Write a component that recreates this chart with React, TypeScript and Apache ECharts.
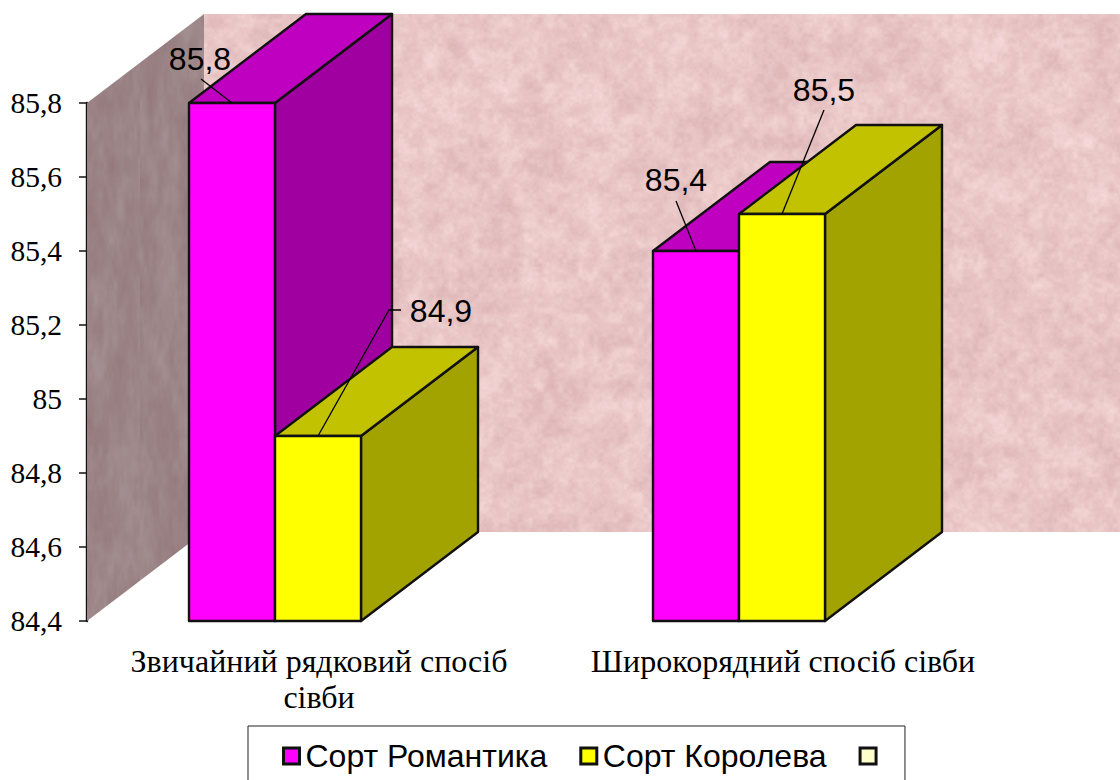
import React, { useEffect, useRef } from "react";
import * as echarts from "echarts";

const categories = ["Звичайний рядковий спосіб\nсівби", "Широкорядний спосіб сівби"];
const seriesNames = ["Сорт Романтика", "Сорт Королева", " "];
const romantykaValues = [85.8, 85.4];
const korolevaValues = [84.9, 85.5];
const axisMin = 84.4;
const axisMax = 85.8;
const axisStep = 0.2;

// Oblique projection of the box: how far the back face sits from the front face.
const DEPTH_X = 117;
const DEPTH_Y = -89;
const GROUP_SHIFT = -44;
const BAR_SHARE = 86 / 464;
const EDGE = "#111111";
const SERIF = "'Liberation Serif', 'Times New Roman', serif";
const SANS = "'Liberation Sans', Arial, sans-serif";

const palette = [
  { front: "#ff00ff", top: "#c000c0", side: "#a000a0" },
  { front: "#ffff00", top: "#c2c200", side: "#a3a300" },
  { front: "#ffffcc" },
];

// Leader line and text placement, relative to the top-centre of each bar's front face.
const romantykaLabels = [
  { leader: [[0, 0], [-31, -24]], text: [-32, -44] },
  { leader: [[0, 0], [-20, -50]], text: [-20, -71] },
];
const korolevaLabels = [
  { leader: [[0, 0], [71, -126], [83, -126]], text: [123, -125] },
  { leader: [[0, 0], [42, -104]], text: [42, -124] },
];

// Deterministic mottled paper texture for the chart walls.
function paperTexture(w: number, h: number, base: number[], amp: number, stretchY: number) {
  const canvas = document.createElement("canvas");
  canvas.width = w;
  canvas.height = h;
  const ctx = canvas.getContext("2d")!;
  const img = ctx.createImageData(w, h);
  const hash = (a: number, b: number) => {
    let n = (a * 374761393 + b * 668265263) | 0;
    n = Math.imul(n ^ (n >>> 13), 1274126177);
    return (((n ^ (n >>> 16)) >>> 0) % 1000) / 1000;
  };
  const smooth = (t: number) => t * t * (3 - 2 * t);
  const noise = (x: number, y: number) => {
    const xi = Math.floor(x);
    const yi = Math.floor(y);
    const u = smooth(x - xi);
    const v = smooth(y - yi);
    const top = hash(xi, yi) * (1 - u) + hash(xi + 1, yi) * u;
    const bottom = hash(xi, yi + 1) * (1 - u) + hash(xi + 1, yi + 1) * u;
    return top * (1 - v) + bottom * v;
  };
  const scales = [60, 24, 11, 5, 2.5];
  const weights = [0.45, 0.8, 1, 0.8, 0.5];
  for (let y = 0; y < h; y++) {
    for (let x = 0; x < w; x++) {
      let sum = 0;
      for (let o = 0; o < scales.length; o++) {
        sum += weights[o] * (noise(x / scales[o] + o * 17, y / (scales[o] * stretchY) + o * 31) - 0.5);
      }
      const i = (y * w + x) * 4;
      img.data[i] = base[0] + sum * amp * 0.7;
      img.data[i + 1] = base[1] + sum * amp;
      img.data[i + 2] = base[2] + sum * amp;
      img.data[i + 3] = 255;
    }
  }
  ctx.putImageData(img, 0, 0);
  return canvas;
}

export default function App() {
  const ref = useRef<HTMLDivElement>(null);

  useEffect(() => {
    const chart = echarts.init(ref.current!, undefined, { renderer: "svg" });
    const backTexture = paperTexture(1120, 540, [233, 198, 198], 15, 1);
    const sideTexture = paperTexture(140, 640, [156, 133, 135], 11, 3);

    const renderWalls = (params: any, api: any) => {
      const bottom = api.coord([0, axisMin])[1];
      const top = api.coord([0, axisMax])[1];
      const left = params.coordSys.x;
      const right = api.getWidth();
      return {
        type: "group",
        children: [
          {
            type: "polygon",
            shape: {
              points: [
                [left + DEPTH_X, top + DEPTH_Y],
                [right, top + DEPTH_Y],
                [right, bottom + DEPTH_Y],
                [left + DEPTH_X, bottom + DEPTH_Y],
              ],
            },
            style: { fill: { image: backTexture, repeat: "repeat" }, stroke: null },
          },
          {
            type: "polygon",
            shape: {
              points: [
                [left, top],
                [left + DEPTH_X, top + DEPTH_Y],
                [left + DEPTH_X, bottom + DEPTH_Y],
                [left, bottom],
              ],
            },
            style: { fill: { image: sideTexture, repeat: "repeat" }, stroke: null },
          },
        ],
      };
    };

    const renderBar = (seriesIdx: number, labels: any[]) => (_params: any, api: any) => {
      const cat = api.value(0);
      const value = api.value(1);
      const [cx, y] = api.coord([cat, value]);
      const y0 = api.coord([cat, axisMin])[1];
      const w = api.size([1, 0])[0] * BAR_SHARE;
      const x0 = cx + GROUP_SHIFT - w + seriesIdx * w;
      const x1 = x0 + w;
      const colors = palette[seriesIdx];
      const edge = { stroke: EDGE, lineWidth: 2.4, lineJoin: "round" };
      const anchor = [(x0 + x1) / 2, y];
      const mark = labels[cat];
      return {
        type: "group",
        children: [
          {
            type: "polygon",
            shape: { points: [[x1, y], [x1 + DEPTH_X, y + DEPTH_Y], [x1 + DEPTH_X, y0 + DEPTH_Y], [x1, y0]] },
            style: { fill: colors.side, ...edge },
          },
          {
            type: "polygon",
            shape: { points: [[x0, y], [x0 + DEPTH_X, y + DEPTH_Y], [x1 + DEPTH_X, y + DEPTH_Y], [x1, y]] },
            style: { fill: colors.top, ...edge },
          },
          {
            type: "rect",
            shape: { x: x0, y, width: w, height: y0 - y },
            style: { fill: colors.front, ...edge },
          },
          {
            type: "polyline",
            shape: { points: mark.leader.map((p: number[]) => [anchor[0] + p[0], anchor[1] + p[1]]) },
            style: { fill: null, stroke: "#000", lineWidth: 1.3 },
          },
          {
            type: "text",
            x: anchor[0] + mark.text[0],
            y: anchor[1] + mark.text[1],
            style: {
              text: String(value).replace(".", ","),
              fill: "#000",
              font: `32px ${SANS}`,
              align: "center",
              verticalAlign: "middle",
            },
          },
        ],
      };
    };

    const pairs = (values: number[]) => values.map((v, i) => [i, v]);

    chart.setOption({
      animation: false,
      backgroundColor: "#ffffff",
      grid: { left: 87, top: 103, width: 928, height: 518, containLabel: false },
      xAxis: {
        type: "category",
        data: categories,
        axisLine: { show: false },
        axisTick: { show: false },
        axisLabel: {
          interval: 0,
          margin: 22,
          fontFamily: SERIF,
          fontSize: 32,
          lineHeight: 36,
          color: "#000",
        },
      },
      yAxis: {
        type: "value",
        min: axisMin,
        max: axisMax,
        interval: axisStep,
        splitLine: { show: false },
        axisLine: { show: true, lineStyle: { color: EDGE, width: 2.4 } },
        axisTick: { show: true, length: 8, lineStyle: { color: EDGE, width: 1.5 } },
        axisLabel: {
          margin: 25,
          fontFamily: SERIF,
          fontSize: 29.5,
          color: "#000",
          formatter: (v: number) => String(+v.toFixed(1)).replace(".", ","),
        },
      },
      legend: {
        left: 248,
        top: 726,
        padding: [14, 14, 16, 34],
        selectedMode: false,
        backgroundColor: "#ffffff",
        borderColor: "#222222",
        borderWidth: 1,
        itemWidth: 16,
        itemHeight: 16,
        itemGap: 32,
        textStyle: { fontFamily: SANS, fontSize: 32, color: "#000", padding: [0, 0, 0, 1] },
        data: seriesNames.map((name, i) => ({
          name,
          icon: "rect",
          itemStyle: { color: palette[i].front, borderColor: EDGE, borderWidth: 3 },
        })),
      },
      series: [
        {
          type: "custom",
          name: "walls",
          coordinateSystem: "cartesian2d",
          renderItem: renderWalls,
          data: [[0, axisMin]],
          z: 1,
          silent: true,
        },
        {
          type: "custom",
          name: seriesNames[0],
          coordinateSystem: "cartesian2d",
          renderItem: renderBar(0, romantykaLabels),
          encode: { x: 0, y: 1 },
          data: pairs(romantykaValues),
          itemStyle: { color: palette[0].front },
          z: 2,
        },
        {
          type: "custom",
          name: seriesNames[1],
          coordinateSystem: "cartesian2d",
          renderItem: renderBar(1, korolevaLabels),
          encode: { x: 0, y: 1 },
          data: pairs(korolevaValues),
          itemStyle: { color: palette[1].front },
          z: 3,
        },
        {
          type: "custom",
          name: seriesNames[2],
          coordinateSystem: "cartesian2d",
          renderItem: () => null,
          data: [],
          itemStyle: { color: palette[2].front },
          z: 3,
        },
      ],
    });

    return () => chart.dispose();
  }, []);

  return <div ref={ref} style={{ position: "absolute", left: 0, top: 0, width: 1120, height: 780, overflow: "hidden" }} />;
}
